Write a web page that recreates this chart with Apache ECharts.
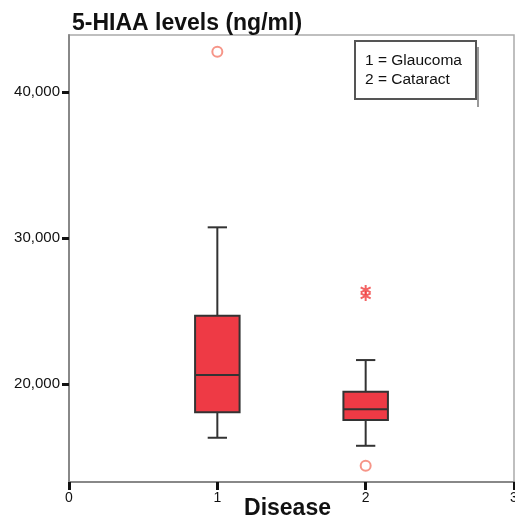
<!DOCTYPE html>
<html>
<head>
<meta charset="utf-8">
<script src="https://cdn.jsdelivr.net/npm/echarts@6/dist/echarts.min.js"></script>
<style>
  html, body { margin: 0; padding: 0; background: #fff; }
  #main { width: 515px; height: 519px; }
</style>
</head>
<body>
<div id="main"></div>
<script>
// disease groups on the x axis (1 = Glaucoma, 2 = Cataract)
var groups = [1, 2];
// [min whisker, Q1, median, Q3, max whisker]
var boxStats = [
    [16320, 18060, 20620, 24680, 30730],
    [15770, 17530, 18270, 19470, 21640]
];
// circles = mild outliers, asterisks = extreme ones
var outliers = [[1, 42760], [2, 14400]];
var extremes = [[2, 26440], [2, 26030]];
var yTicks = [20000, 30000, 40000];
var legendLines = ['1 = Glaucoma', '2 = Cataract'];

var boxData = groups.map(function (g, i) {
    return [g].concat(boxStats[i]);
});

var myChart = echarts.init(document.getElementById('main'));

var option = {
    backgroundColor: '#fff',
    animation: false,
    title: {
        text: '5-HIAA levels (ng/ml)',
        left: 67,
        top: 7,
        textStyle: {
            fontFamily: 'Liberation Sans, Arial',
            fontSize: 23,
            fontWeight: 'bold',
            color: '#111'
        }
    },
    grid: {
        left: 69,
        top: 35,
        right: 1,
        bottom: 37,
        outerBoundsMode: 'none',
        containLabel: false,
        show: true,
        borderColor: '#aaa',
        borderWidth: 1.5
    },
    xAxis: {
        type: 'value',
        min: 0,
        max: 3,
        interval: 1,
        name: 'Disease',
        nameLocation: 'middle',
        nameGap: 15,
        nameMoveOverlap: false,
        nameTextStyle: {
            fontFamily: 'Liberation Sans, Arial',
            fontSize: 23,
            fontWeight: 'bold',
            color: '#111',
            padding: [0, 8, 0, 0]
        },
        splitLine: { show: false },
        axisLine: { lineStyle: { color: '#888', width: 2 } },
        axisTick: { length: 8, lineStyle: { color: '#111', width: 3 } },
        axisLabel: {
            margin: 9,
            fontFamily: 'Liberation Sans, Arial',
            fontSize: 14,
            color: '#111'
        }
    },
    yAxis: {
        type: 'value',
        min: 13290,
        max: 43900,
        splitLine: { show: false },
        axisLine: { show: true, lineStyle: { color: '#888', width: 2 } },
        axisTick: {
            show: true,
            length: 7,
            customValues: yTicks,
            lineStyle: { color: '#111', width: 3 }
        },
        axisLabel: {
            margin: 9,
            customValues: yTicks,
            fontFamily: 'Liberation Sans, Arial',
            fontSize: 15,
            color: '#111',
            formatter: function (v) { return v.toLocaleString('en-US'); }
        }
    },
    series: [
        {
            type: 'custom',
            data: boxData,
            encode: { x: 0, y: [1, 2, 3, 4, 5] },
            renderItem: function (params, api) {
                var x = api.value(0);
                var lo = api.coord([x, api.value(1)]);
                var q1 = api.coord([x, api.value(2)]);
                var med = api.coord([x, api.value(3)]);
                var q3 = api.coord([x, api.value(4)]);
                var hi = api.coord([x, api.value(5)]);
                var half = api.size([0.3, 0])[0] / 2;
                var cap = api.size([0.13, 0])[0] / 2;
                var cx = lo[0];
                var lineStyle = { stroke: '#333', lineWidth: 2 };
                return {
                    type: 'group',
                    children: [
                        { type: 'line', shape: { x1: cx, y1: hi[1], x2: cx, y2: q3[1] }, style: lineStyle },
                        { type: 'line', shape: { x1: cx, y1: q1[1], x2: cx, y2: lo[1] }, style: lineStyle },
                        { type: 'line', shape: { x1: cx - cap, y1: hi[1], x2: cx + cap, y2: hi[1] }, style: lineStyle },
                        { type: 'line', shape: { x1: cx - cap, y1: lo[1], x2: cx + cap, y2: lo[1] }, style: lineStyle },
                        {
                            type: 'rect',
                            shape: { x: cx - half, y: q3[1], width: half * 2, height: q1[1] - q3[1] },
                            style: { fill: '#ee3a45', stroke: '#333', lineWidth: 2 }
                        },
                        { type: 'line', shape: { x1: cx - half, y1: med[1], x2: cx + half, y2: med[1] }, style: lineStyle }
                    ]
                };
            }
        },
        {
            type: 'scatter',
            data: outliers,
            symbol: 'emptyCircle',
            symbolSize: 10,
            itemStyle: { color: '#f47a6a', borderWidth: 2 }
        },
        {
            type: 'scatter',
            data: extremes,
            symbol: 'path://M5,0L5,10M0.7,2.5L9.3,7.5M0.7,7.5L9.3,2.5',
            symbolSize: 10,
            itemStyle: { color: 'transparent', borderColor: '#f03c3c', borderWidth: 2 }
        }
    ],
    graphic: [
        {
            type: 'line',
            shape: { x1: 478, y1: 47, x2: 478, y2: 107 },
            style: { stroke: '#777', lineWidth: 1.5 }
        },
        {
            type: 'rect',
            shape: { x: 355, y: 41, width: 121, height: 58 },
            style: { fill: '#fff', stroke: '#555', lineWidth: 2 }
        },
        {
            type: 'text',
            left: 365,
            top: 51,
            style: {
                text: legendLines.join('\n'),
                fontFamily: 'Liberation Sans, Arial',
                fontSize: 15.5,
                lineHeight: 19,
                fill: '#111'
            }
        }
    ]
};

myChart.setOption(option);
</script>
</body>
</html>
